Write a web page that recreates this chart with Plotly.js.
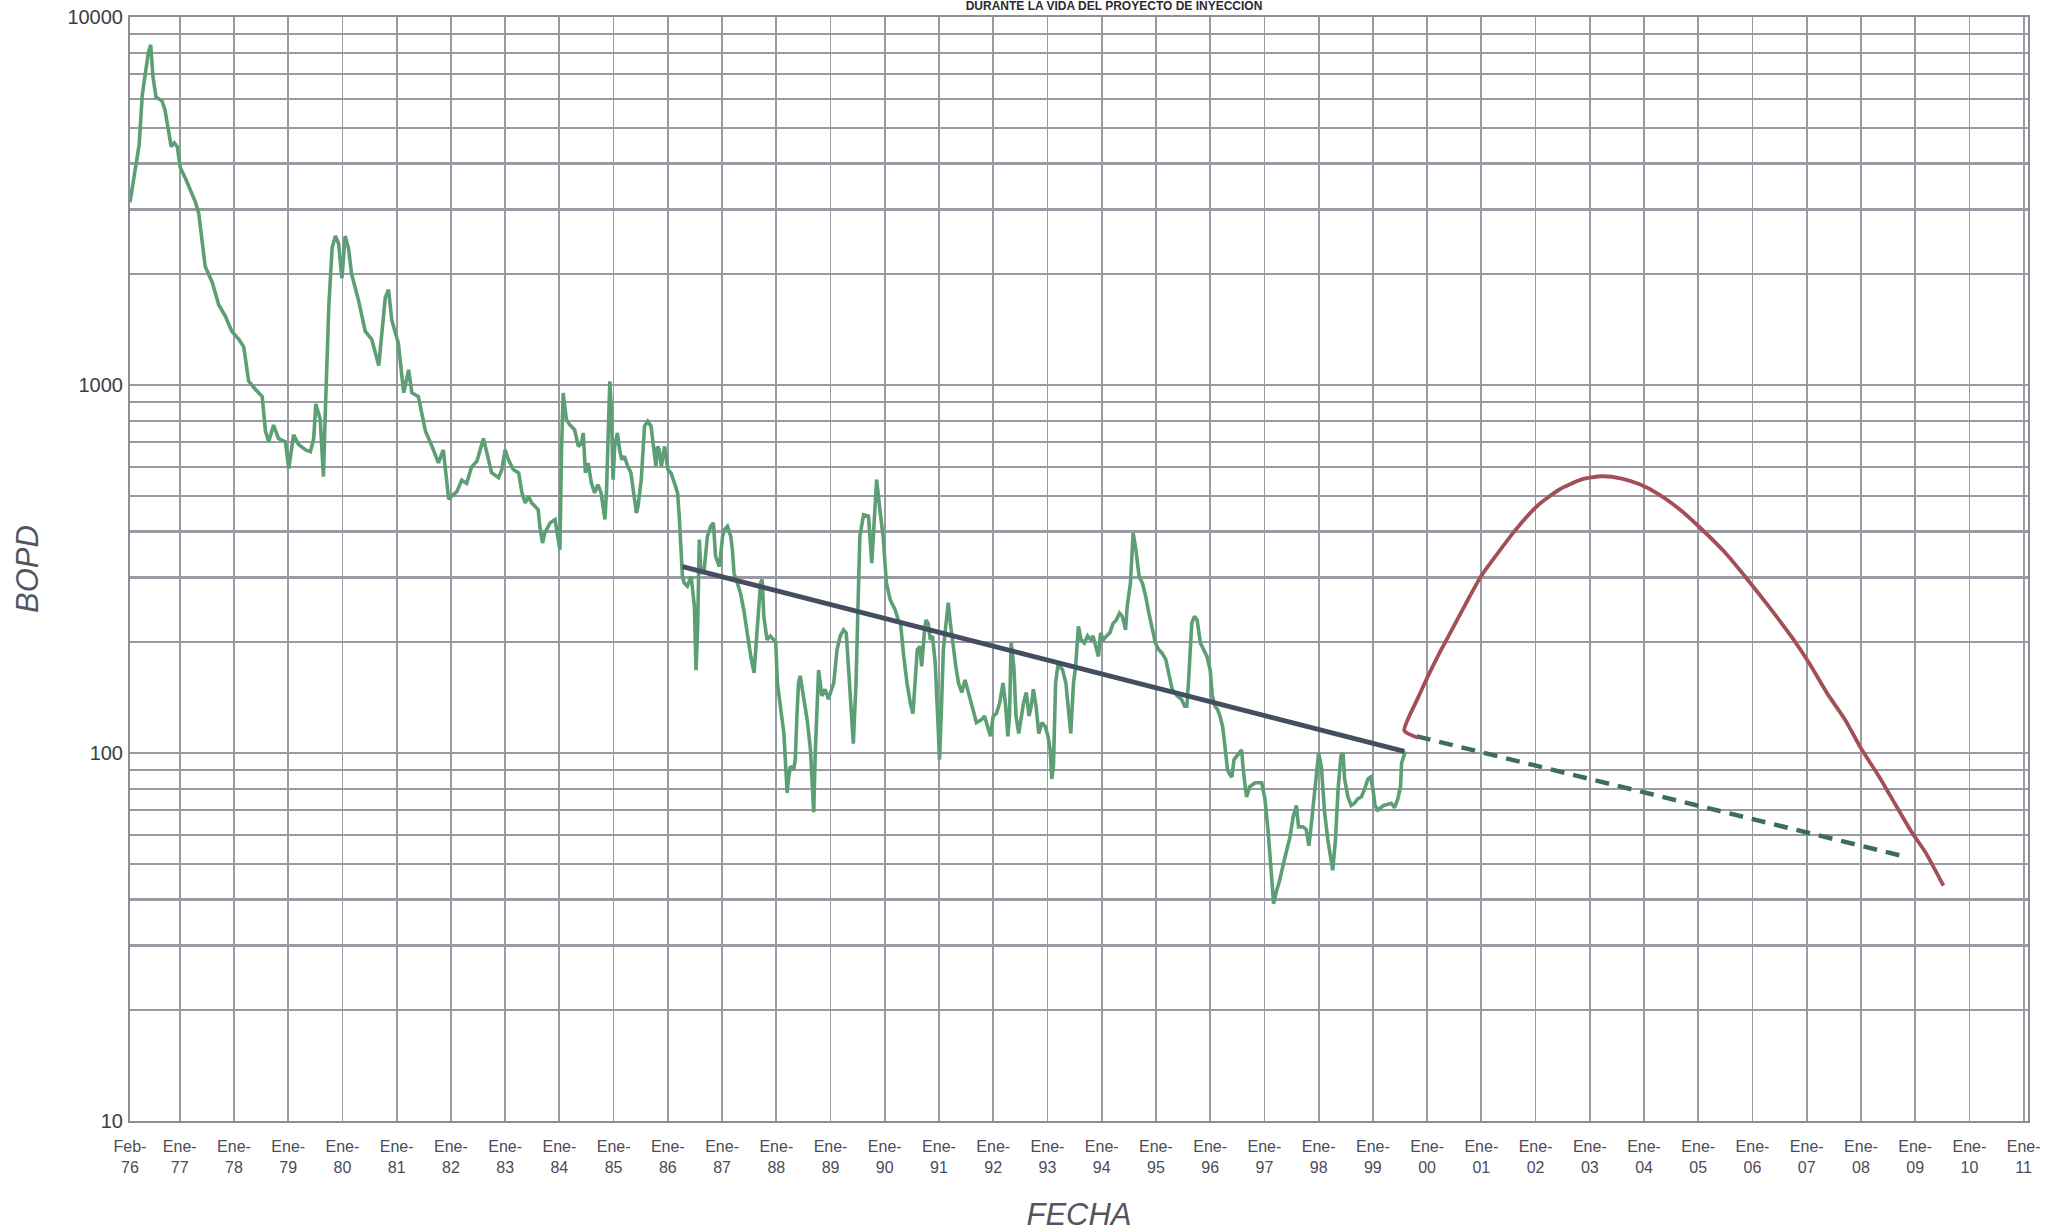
<!DOCTYPE html>
<html>
<head>
<meta charset="utf-8">
<script src="https://cdn.plot.ly/plotly-3.0.1.min.js"></script>
<style>
  html, body { margin: 0; padding: 0; background: #ffffff; }
  #chart { width: 2065px; height: 1232px; }
</style>
</head>
<body>
<div id="chart"></div>
<script>
// ---- Historical production (decimal year, BOPD) ----
const histYears = [
  1976.083,1976.167,1976.252,1976.309,1976.365,1976.420,1976.465,1976.505,1976.562,1976.674,
  1976.730,1976.786,1976.843,1976.899,1976.955,1977.01,1977.11,1977.29,1977.35,1977.47,
  1977.60,1977.72,1977.84,1977.96,1978.09,1978.18,1978.27,1978.39,1978.52,1978.58,
  1978.64,1978.73,1978.82,1978.95,1979.01,1979.10,1979.19,1979.32,1979.41,1979.47,
  1979.51,1979.59,1979.65,1979.68,1979.75,1979.81,1979.87,1979.93,1979.99,1980.05,
  1980.11,1980.17,1980.30,1980.42,1980.54,1980.67,1980.73,1980.79,1980.85,1980.91,
  1981.03,1981.13,1981.22,1981.28,1981.40,1981.53,1981.65,1981.77,1981.86,1981.96,
  1982.02,1982.11,1982.20,1982.29,1982.38,1982.48,1982.60,1982.69,1982.75,1982.88,
  1982.94,1983.00,1983.06,1983.15,1983.25,1983.31,1983.37,1983.43,1983.49,1983.55,
  1983.61,1983.64,1983.69,1983.73,1983.83,1983.92,1983.98,1984.01,1984.04,1984.07,
  1984.10,1984.13,1984.19,1984.28,1984.35,1984.41,1984.44,1984.48,1984.53,1984.59,
  1984.65,1984.71,1984.77,1984.84,1984.87,1984.90,1984.93,1984.96,1984.99,1985.02,
  1985.07,1985.11,1985.15,1985.20,1985.26,1985.32,1985.39,1985.42,1985.45,1985.51,
  1985.57,1985.63,1985.69,1985.75,1985.78,1985.81,1985.84,1985.88,1985.94,1986.00,
  1986.06,1986.12,1986.18,1986.21,1986.24,1986.27,1986.30,1986.36,1986.43,1986.49,
  1986.52,1986.55,1986.58,1986.61,1986.67,1986.73,1986.79,1986.84,1986.88,1986.95,
  1987.01,1987.04,1987.10,1987.16,1987.19,1987.22,1987.28,1987.34,1987.40,1987.47,
  1987.53,1987.59,1987.65,1987.71,1987.74,1987.77,1987.83,1987.89,1987.95,1987.99,
  1988.02,1988.08,1988.14,1988.17,1988.20,1988.23,1988.26,1988.32,1988.35,1988.38,
  1988.41,1988.44,1988.51,1988.57,1988.63,1988.66,1988.69,1988.72,1988.75,1988.78,
  1988.81,1988.84,1988.90,1988.96,1989.02,1989.06,1989.12,1989.18,1989.24,1989.29,
  1989.33,1989.39,1989.42,1989.47,1989.51,1989.54,1989.61,1989.70,1989.76,1989.79,
  1989.85,1989.91,1989.97,1990.03,1990.10,1990.19,1990.25,1990.29,1990.32,1990.35,
  1990.41,1990.47,1990.52,1990.56,1990.60,1990.65,1990.68,1990.73,1990.76,1990.80,
  1990.84,1990.88,1990.93,1990.97,1991.01,1991.04,1991.08,1991.13,1991.17,1991.21,
  1991.26,1991.31,1991.36,1991.42,1991.48,1991.54,1991.60,1991.69,1991.78,1991.84,
  1991.91,1991.95,1992.00,1992.06,1992.12,1992.18,1992.23,1992.27,1992.30,1992.33,
  1992.38,1992.42,1992.47,1992.52,1992.56,1992.61,1992.66,1992.70,1992.74,1992.79,
  1992.84,1992.90,1992.96,1993.01,1993.05,1993.08,1993.11,1993.15,1993.19,1993.23,
  1993.28,1993.34,1993.40,1993.43,1993.48,1993.52,1993.57,1993.62,1993.68,1993.74,
  1993.80,1993.84,1993.89,1993.94,1993.98,1994.03,1994.09,1994.15,1994.21,1994.27,
  1994.33,1994.38,1994.44,1994.47,1994.53,1994.58,1994.63,1994.69,1994.75,1994.81,
  1994.87,1994.93,1994.99,1995.05,1995.11,1995.18,1995.24,1995.30,1995.39,1995.47,
  1995.53,1995.57,1995.60,1995.63,1995.66,1995.71,1995.76,1995.82,1995.88,1995.94,
  1996.00,1996.04,1996.09,1996.14,1996.18,1996.23,1996.28,1996.32,1996.35,1996.40,
  1996.44,1996.49,1996.53,1996.58,1996.61,1996.64,1996.67,1996.73,1996.83,1996.95,
  1997.01,1997.07,1997.12,1997.17,1997.22,1997.28,1997.35,1997.41,1997.47,1997.53,
  1997.59,1997.63,1997.71,1997.77,1997.82,1997.86,1997.91,1997.96,1998.00,1998.05,
  1998.11,1998.17,1998.23,1998.26,1998.31,1998.36,1998.41,1998.45,1998.48,1998.54,
  1998.60,1998.66,1998.72,1998.79,1998.85,1998.91,1998.96,1999.00,1999.04,1999.09,
  1999.20,1999.34,1999.40,1999.46,1999.51,1999.53,1999.60
];
const histBopd = [
  3140,3800,4500,6140,7080,7980,8400,6900,6060,5910,
  5570,4950,4440,4550,4440,3900,3630,3140,2930,2100,
  1900,1650,1540,1400,1330,1270,1025,975,930,750,
  700,778,716,700,592,732,690,666,659,716,
  888,807,564,807,1650,2360,2540,2420,1950,2540,
  2360,2000,1690,1400,1330,1130,1365,1730,1815,1500,
  1300,953,1100,953,930,750,682,614,666,489,
  500,513,551,540,598,621,716,635,578,560,
  589,667,627,589,577,509,478,498,478,468,
  458,413,372,396,422,431,372,357,667,951,
  875,805,780,756,681,695,741,577,614,542,
  509,536,509,431,520,822,1023,857,553,681,
  741,667,627,640,601,577,488,449,468,553,
  773,797,773,667,601,681,667,601,681,589,
  577,542,509,440,349,302,290,284,302,250,
  168,221,380,308,315,388,413,422,342,321,
  388,404,413,388,357,308,290,272,245,207,
  183,165,212,290,296,235,203,208,203,199,
  155,131,113,94,78,86,92,90,96,126,
  155,162,140,123,102,79,69,102,140,168,
  155,143,149,140,149,155,191,208,216,212,
  172,126,106,155,267,388,444,440,328,388,
  553,458,388,290,261,245,230,225,199,183,
  155,137,128,155,191,195,172,212,230,225,
  203,208,176,131,96,126,191,225,256,225,
  195,172,155,146,158,146,134,121,123,126,
  116,111,126,128,137,155,134,111,126,199,
  172,126,113,126,137,146,126,134,149,134,
  113,121,118,111,102,85,92,155,172,172,
  168,155,126,113,155,172,221,203,199,208,
  203,208,195,183,212,203,208,212,225,230,
  240,235,216,250,290,396,357,302,290,267,
  240,216,199,191,187,180,162,149,143,140,
  134,134,155,191,225,235,230,199,191,183,
  168,143,134,131,126,118,102,90,88,86,
  96,98,100,102,90,83,76,81,83,83,
  75,61,47,39,42,45,50,55,59,67,
  72,63,63,62,56,63,75,90,100,92,
  69,58,50,48,58,80,98,100,85,76,
  72,73,75,76,80,85,86,80,72,70,
  72,73,71,75,81,94,101
];

// ---- Decline trend fitted on history ----
const trendYears = [1986.27, 1999.58];
const trendBopd  = [321, 101];

// ---- Base decline forecast (no injection) ----
const baseYears = [1999.81, 2008.74];
const baseBopd  = [111, 52.6];

// ---- Forecast with injection project ----
const injYears = [1999.83,1999.58,1999.64,1999.81,2000.01,2000.22,2000.42,2000.71,2001.00,2001.29,
                  2001.62,2002.03,2002.44,2002.85,2003.22,2003.59,2003.92,2004.25,2004.66,2005.03,
                  2005.49,2005.90,2006.31,2006.72,2007.05,2007.38,2007.71,2008.00,2008.33,2008.65,
                  2008.94,2009.19,2009.52];
const injBopd  = [110,115,123,139,161,186,211,254,303,347,
                  402,469,520,554,565,557,537,507,459,410,
                  351,297,249,207,175,145,123,103,86.5,71.8,
                  60.8,53.7,43.6];

// ---- Axis ticks ----
const xTickYears = [1976.083,1977,1978,1979,1980,1981,1982,1983,1984,1985,1986,1987,1988,1989,1990,
                    1991,1992,1993,1994,1995,1996,1997,1998,1999,2000,2001,2002,2003,2004,2005,
                    2006,2007,2008,2009,2010,2011];
const xTickMonth = ["Feb-","Ene-","Ene-","Ene-","Ene-","Ene-","Ene-","Ene-","Ene-","Ene-","Ene-","Ene-",
                    "Ene-","Ene-","Ene-","Ene-","Ene-","Ene-","Ene-","Ene-","Ene-","Ene-","Ene-","Ene-",
                    "Ene-","Ene-","Ene-","Ene-","Ene-","Ene-","Ene-","Ene-","Ene-","Ene-","Ene-","Ene-"];
const xTickYY = ["76","77","78","79","80","81","82","83","84","85","86","87","88","89","90","91","92",
                 "93","94","95","96","97","98","99","00","01","02","03","04","05","06","07","08","09","10","11"];
const yGridVals = [10,20,30,40,50,60,70,80,90,100,200,300,400,500,600,700,800,900,
                   1000,2000,3000,4000,5000,6000,7000,8000,9000,10000];
const yLabelVals = [10,100,1000,10000];

const xTickText = xTickMonth.map((m, i) => m + "<br>" + xTickYY[i]);
const yTickText = yGridVals.map(v => yLabelVals.includes(v) ? String(v) : "");

const gridCol = "#9a9aa4";
const narrow = "'Liberation Sans Narrow', 'Arial Narrow', 'Liberation Sans', Arial, sans-serif";
const sans = "'Liberation Sans', Arial, sans-serif";

const traces = [
  { x: histYears, y: histBopd, type: "scatter", mode: "lines",
    line: { color: "#5c9f75", width: 3.6 }, name: "Histórico" },
  { x: trendYears, y: trendBopd, type: "scatter", mode: "lines",
    line: { color: "#454d60", width: 5 }, name: "Tendencia" },
  { x: baseYears, y: baseBopd, type: "scatter", mode: "lines",
    line: { color: "#3f6d5d", width: 4.5, dash: "14px,9px" }, name: "Declinación" },
  { x: injYears, y: injBopd, type: "scatter", mode: "lines",
    line: { color: "#a24f57", width: 3.8, shape: "spline", smoothing: 0.6 }, name: "Inyección" }
];

const layout = {
  width: 2065, height: 1232,
  paper_bgcolor: "#ffffff", plot_bgcolor: "#ffffff",
  showlegend: false,
  margin: { l: 130, r: 37, t: 17, b: 111, pad: 0 },
  title: {
    text: "DURANTE LA VIDA DEL PROYECTO DE INYECCION",
    x: 1114 / 2065, xref: "container", xanchor: "center",
    y: 1, yref: "container", yanchor: "top",
    pad: { t: 2 },
    font: { family: sans, size: 12, color: "#2a2a33", weight: "bold" }
  },
  xaxis: {
    type: "linear",
    range: [1976.083, 2011.08],
    tickmode: "array", tickvals: xTickYears, ticktext: xTickText,
    tickfont: { family: narrow, size: 16, color: "#4c4c57" },
    ticklabelstandoff: 10,
    ticks: "", showgrid: true, gridcolor: gridCol, gridwidth: 1.8,
    zeroline: false, showline: true, linecolor: "#8e8e98", linewidth: 2, mirror: true,
    title: { text: "<i>FECHA</i>", standoff: 28,
             font: { family: sans, size: 31, color: "#55555f" } }
  },
  yaxis: {
    type: "log",
    range: [1, 4],
    tickmode: "array", tickvals: yGridVals, ticktext: yTickText,
    tickfont: { family: sans, size: 20, color: "#3c3c48" },
    ticklabelstandoff: 1,
    ticks: "", showgrid: true, gridcolor: gridCol, gridwidth: 2.2,
    zeroline: false, showline: true, linecolor: "#8e8e98", linewidth: 2, mirror: true,
    title: { text: "<i>BOPD</i>", standoff: 20,
             font: { family: sans, size: 31, color: "#55555f" } }
  }
};

Plotly.newPlot("chart", traces, layout, { displayModeBar: false, staticPlot: true });
</script>
</body>
</html>
